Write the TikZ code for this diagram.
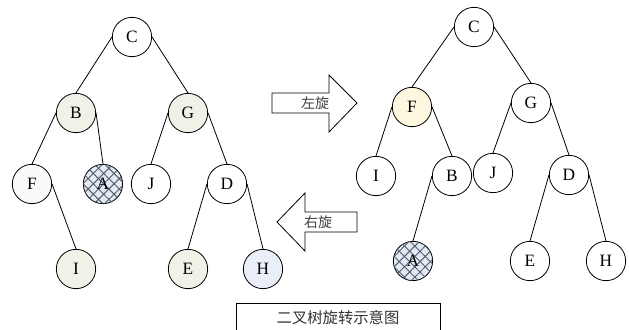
\documentclass[tikz,border=0pt]{standalone}
\usepackage{fontspec}
\setmainfont{Liberation Serif}
\newfontfamily\cjk{Noto Sans CJK SC}
\usetikzlibrary{patterns.meta}
\definecolor{greenish}{HTML}{F0F2E8}
\definecolor{bluish}{HTML}{E9EEF8}
\definecolor{yellowish}{HTML}{FCF7DE}
\definecolor{hatchbg}{HTML}{E2EAF5}
\definecolor{hatchln}{HTML}{555A66}
\begin{document}
\begin{tikzpicture}[x=0.75pt,y=-0.75pt,
  nd/.style={circle,draw,line width=0.6pt,minimum size=29.5pt,inner sep=0pt,fill=white,
    font=\fontsize{13}{13}\selectfont},
  gn/.style={nd,fill=greenish},
  bl/.style={nd,fill=bluish},
  yl/.style={nd,fill=yellowish},
  hatched/.style={nd,fill=hatchbg,
    postaction={pattern={Lines[angle=45,distance=5.5pt,line width=0.7pt]},pattern color=hatchln},
    postaction={pattern={Lines[angle=-45,distance=5.5pt,line width=0.7pt]},pattern color=hatchln}},
  ed/.style={line width=0.6pt},
  blk/.style={draw,line width=0.6pt,fill=white,line join=miter},
  lbl/.style={font=\cjk\fontsize{10.5}{11}\selectfont,inner sep=0pt,text=black!75}]
\useasboundingbox (0,0) rectangle (629,329);
% left tree
\node[nd] (lC) at (132,37) {C};
\node[gn] (lB) at (76,113) {B};
\node[gn] (lG) at (188,113) {G};
\node[nd,fill=black!2] (lF) at (32,184) {F};
\node[hatched] (lA) at (103,184) {A};
\node[nd] (lJ) at (151,184) {J};
\node[nd] (lD) at (227,184) {D};
\node[gn] (lI) at (76,269) {I};
\node[gn] (lE) at (188,269) {E};
\node[bl] (lH) at (263,269) {H};
\draw[ed] (lC.west) -- (lB.north);
\draw[ed] (lC.east) -- (lG.north);
\draw[ed] (lB.west) -- (lF.north);
\draw[ed] (lB.east) -- (lA.north);
\draw[ed] (lG.west) -- (lJ.north);
\draw[ed] (lG.east) -- (lD.north);
\draw[ed] (lF.east) -- (lI.north);
\draw[ed] (lD.west) -- (lE.north);
\draw[ed] (lD.east) -- (lH.north);
% right tree
\node[nd] (rC) at (474,27) {C};
\node[yl] (rF) at (412,107) {F};
\node[nd] (rG) at (531,103) {G};
\node[nd] (rI) at (376,176) {I};
\node[nd] (rB) at (452,176) {B};
\node[nd] (rJ) at (493,173) {J};
\node[nd] (rD) at (569,175) {D};
\node[hatched] (rA) at (413,261) {A};
\node[nd] (rE) at (530,261) {E};
\node[nd] (rH) at (606,261) {H};
\draw[ed] (rC.west) -- (rF.north);
\draw[ed] (rC.east) -- (rG.north);
\draw[ed] (rF.west) -- (rI.north);
\draw[ed] (rF.east) -- (rB.north);
\draw[ed] (rG.west) -- (rJ.north);
\draw[ed] (rG.east) -- (rD.north);
\draw[ed] (rB.west) -- (rA.north);
\draw[ed] (rD.west) -- (rE.north);
\draw[ed] (rD.east) -- (rH.north);
% block arrows
\draw[blk] (272,93) -- (329,93) -- (329,75) -- (357,103) -- (329,132) -- (329,113) -- (272,113) -- cycle;
\node[lbl] (tl) at (315,103) {左旋};
\draw[blk] (357,212) -- (305,212) -- (305,193) -- (277,222) -- (305,251) -- (305,232) -- (357,232) -- cycle;
\node[lbl] (tr) at (318,222) {右旋};
% caption
\draw[line width=0.6pt] (236,335) -- (236,303) -- (440,303) -- (440,335);
\node[font=\cjk\fontsize{11.5}{12}\selectfont,inner sep=0pt,text=black!80] (cap) at (338,318) {二叉树旋转示意图};
\end{tikzpicture}
\end{document}
